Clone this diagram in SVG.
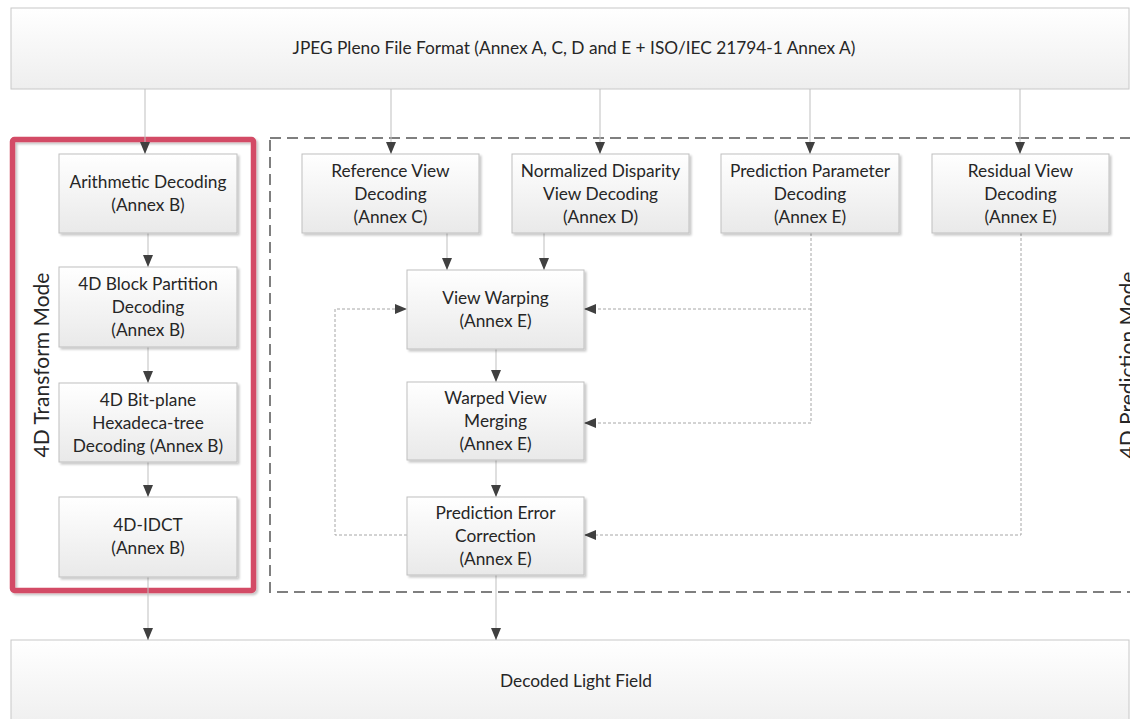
<svg xmlns="http://www.w3.org/2000/svg" width="1130" height="719" viewBox="0 0 1130 719">
<defs>
<linearGradient id="g" x1="0" y1="0" x2="0" y2="1"><stop offset="0" stop-color="#ffffff"/><stop offset="1" stop-color="#e9e9e9"/></linearGradient>
<linearGradient id="gb" x1="0" y1="0" x2="0" y2="1"><stop offset="0" stop-color="#ffffff"/><stop offset="1" stop-color="#eeeeee"/></linearGradient>
<filter id="sh" x="-10%" y="-10%" width="130%" height="130%"><feDropShadow dx="2" dy="2" stdDeviation="1.2" flood-color="#000" flood-opacity="0.22"/></filter>
<marker id="ar" viewBox="0 0 12 10" markerWidth="12" markerHeight="10" refX="12" refY="5" orient="auto" markerUnits="userSpaceOnUse"><path d="M0,0 L12,5 L0,10 z" fill="#404040"/></marker>
</defs>
<style>
.box{fill:url(#g);stroke:#bfbfbf;stroke-width:1;filter:url(#sh)}
.big{fill:url(#gb);stroke:#c8c8c8;stroke-width:1}
.t{font-family:Lato,"Liberation Sans",sans-serif;font-size:17.3px;fill:#262626;text-anchor:middle}
.lab{font-family:Lato,"Liberation Sans",sans-serif;font-size:21px;fill:#262626;text-anchor:middle}
.c{fill:none;stroke:#bfbfbf;stroke-width:1}
.d{fill:none;stroke:#a6a6a6;stroke-width:1;stroke-dasharray:3 2}
</style>
<rect width="1130" height="719" fill="#ffffff"/>

<g id="top"><rect class="big" x="11" y="8" width="1118" height="81"/><text class="t" x="574" y="54">JPEG Pleno File Format (Annex A, C, D and E + ISO/IEC 21794-1 Annex A)</text></g>
<g id="bottom"><rect class="big" x="11" y="640" width="1118" height="90"/><text class="t" x="576" y="687">Decoded Light Field</text></g>

<g id="prediction-mode"><rect x="270" y="138" width="870" height="454" fill="none" stroke="#7f7f7f" stroke-width="2" stroke-dasharray="11 6"/><text class="lab" transform="translate(1135,365) rotate(-90)">4D Prediction Mode</text></g>
<g id="transform-mode"><rect x="12.5" y="139.5" width="241" height="451" rx="2" fill="none" stroke="#d34c66" stroke-width="5.5" filter="url(#sh)"/><text class="lab" transform="translate(49,365) rotate(-90)">4D Transform Mode</text></g>

<g id="connectors">
<path class="c" d="M145,89 V154" marker-end="url(#ar)"/>
<path class="c" d="M391,89 V154" marker-end="url(#ar)"/>
<path class="c" d="M600,89 V154" marker-end="url(#ar)"/>
<path class="c" d="M810,89 V154" marker-end="url(#ar)"/>
<path class="c" d="M1020,89 V154" marker-end="url(#ar)"/>
<path class="c" d="M148,233 V267" marker-end="url(#ar)"/>
<path class="c" d="M148,347 V383" marker-end="url(#ar)"/>
<path class="c" d="M148,462 V497" marker-end="url(#ar)"/>
<path class="c" d="M148,577 V640" marker-end="url(#ar)"/>
<path class="c" d="M447,233 V270" marker-end="url(#ar)"/>
<path class="c" d="M544,233 V270" marker-end="url(#ar)"/>
<path class="c" d="M496,349 V382" marker-end="url(#ar)"/>
<path class="c" d="M496,460 V497" marker-end="url(#ar)"/>
<path class="c" d="M496,575 V640" marker-end="url(#ar)"/>
<path class="d" d="M407,535 H335 V309 H407" marker-end="url(#ar)"/>
<path class="d" d="M811,233 V423 H584" marker-end="url(#ar)"/>
<path class="d" d="M811,309 H584" marker-end="url(#ar)"/>
<path class="d" d="M1021,233 V535 H584" marker-end="url(#ar)"/>
</g>

<g id="arith"><rect class="box" x="59" y="154" width="178" height="79"/><text class="t" x="148" y="188">Arithmetic Decoding</text><text class="t" x="148" y="211">(Annex B)</text></g>
<g id="block"><rect class="box" x="59" y="267" width="178" height="80"/><text class="t" x="148" y="290">4D Block Partition</text><text class="t" x="148" y="313">Decoding</text><text class="t" x="148" y="336">(Annex B)</text></g>
<g id="bitplane"><rect class="box" x="59" y="383" width="178" height="79"/><text class="t" x="148" y="406">4D Bit-plane</text><text class="t" x="148" y="429">Hexadeca-tree</text><text class="t" x="148" y="452">Decoding (Annex B)</text></g>
<g id="idct"><rect class="box" x="59" y="497" width="178" height="80"/><text class="t" x="148" y="531">4D-IDCT</text><text class="t" x="148" y="554">(Annex B)</text></g>

<g id="refview"><rect class="box" x="302" y="154" width="177" height="79"/><text class="t" x="390.5" y="177">Reference View</text><text class="t" x="390.5" y="200">Decoding</text><text class="t" x="390.5" y="223">(Annex C)</text></g>
<g id="disparity"><rect class="box" x="512" y="154" width="177" height="79"/><text class="t" x="600.5" y="177">Normalized Disparity</text><text class="t" x="600.5" y="200">View Decoding</text><text class="t" x="600.5" y="223">(Annex D)</text></g>
<g id="predparam"><rect class="box" x="721" y="154" width="178" height="79"/><text class="t" x="810" y="177">Prediction Parameter</text><text class="t" x="810" y="200">Decoding</text><text class="t" x="810" y="223">(Annex E)</text></g>
<g id="residual"><rect class="box" x="932" y="154" width="177" height="79"/><text class="t" x="1020.5" y="177">Residual View</text><text class="t" x="1020.5" y="200">Decoding</text><text class="t" x="1020.5" y="223">(Annex E)</text></g>

<g id="warping"><rect class="box" x="407" y="270" width="177" height="79"/><text class="t" x="495.5" y="304">View Warping</text><text class="t" x="495.5" y="327">(Annex E)</text></g>
<g id="merging"><rect class="box" x="407" y="382" width="177" height="78"/><text class="t" x="495.5" y="404">Warped View</text><text class="t" x="495.5" y="427">Merging</text><text class="t" x="495.5" y="450">(Annex E)</text></g>
<g id="pec"><rect class="box" x="407" y="497" width="177" height="78"/><text class="t" x="495.5" y="519">Prediction Error</text><text class="t" x="495.5" y="542">Correction</text><text class="t" x="495.5" y="565">(Annex E)</text></g>
</svg>
